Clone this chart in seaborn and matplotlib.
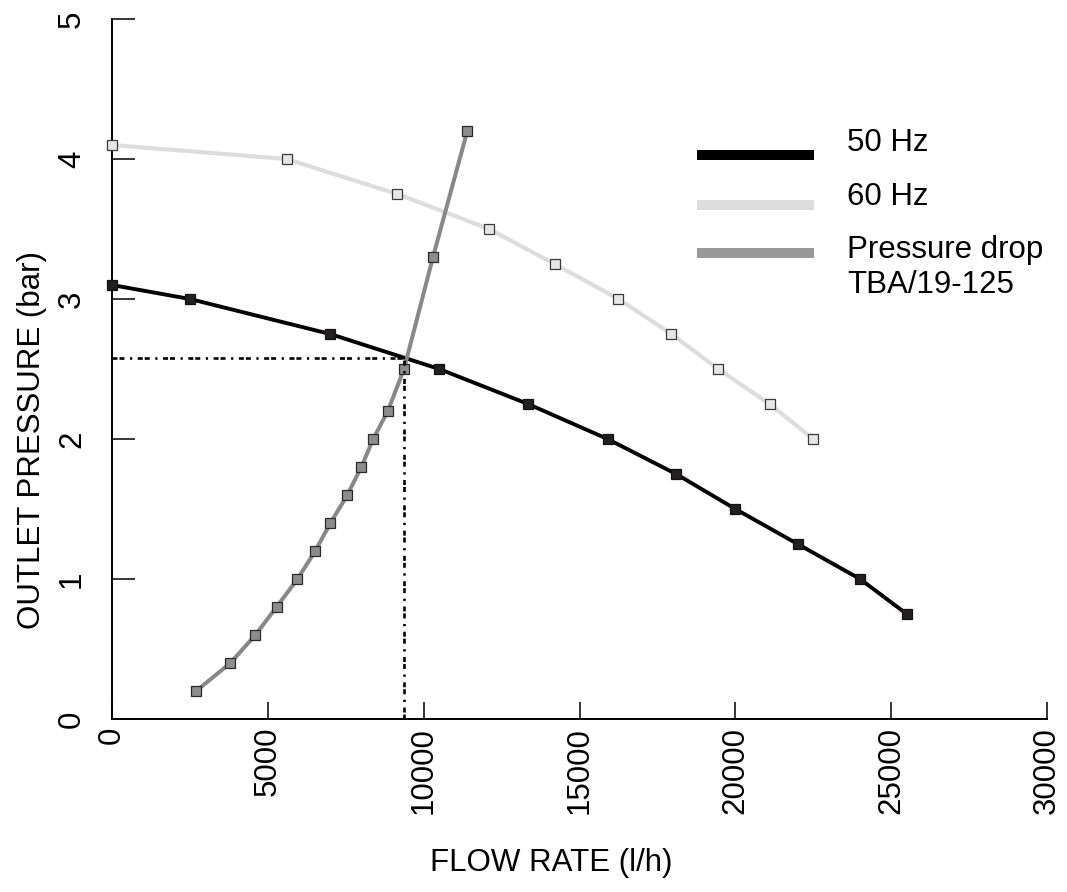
import matplotlib
matplotlib.use("Agg")
import matplotlib.pyplot as plt
import seaborn as sns
import pandas as pd
from matplotlib.lines import Line2D
from matplotlib.legend_handler import HandlerLine2D

# ---- data ----
flow_50 = [0, 2500, 7000, 10500, 13350, 15900, 18100, 20000, 22000, 24000, 25500]
pres_50 = [3.1, 3.0, 2.75, 2.5, 2.25, 2.0, 1.75, 1.5, 1.25, 1.0, 0.75]

flow_60 = [0, 5600, 9150, 12100, 14200, 16250, 17950, 19450, 21100, 22500]
pres_60 = [4.1, 4.0, 3.75, 3.5, 3.25, 3.0, 2.75, 2.5, 2.25, 2.0]

flow_drop = [2700, 3800, 4600, 5280, 5950, 6520, 7010, 7550, 8000, 8380, 8850, 9370, 10300, 11400]
pres_drop = [0.2, 0.4, 0.6, 0.8, 1.0, 1.2, 1.4, 1.6, 1.8, 2.0, 2.2, 2.5, 3.3, 4.2]

op_flow = 9370
op_pres = 2.58

x_ticks = [0, 5000, 10000, 15000, 20000, 25000, 30000]
y_ticks = [0, 1, 2, 3, 4, 5]
series_labels = ["50 Hz", "60 Hz", "Pressure drop\nTBA/19-125"]
x_label = "FLOW RATE (l/h)"
y_label = "OUTLET PRESSURE (bar)"

# ---- style ----
sns.set_theme(style="ticks")
plt.rcParams["font.family"] = ["Liberation Sans", "DejaVu Sans"]
plt.rcParams["lines.scale_dashes"] = False
plt.rcParams["text.color"] = "#000000"
plt.rcParams["axes.labelcolor"] = "#000000"

FS = 22.5

fig = plt.figure(figsize=(10.67, 8.92), dpi=100)
ax = fig.add_axes([112 / 1067, 1 - 719 / 892, (1047 - 112) / 1067, 700 / 892])

df50 = pd.DataFrame({"flow": flow_50, "pres": pres_50})
df60 = pd.DataFrame({"flow": flow_60, "pres": pres_60})
dfd = pd.DataFrame({"flow": flow_drop, "pres": pres_drop})

sns.lineplot(data=df60, x="flow", y="pres", ax=ax, sort=False, estimator=None,
             color="#dddddd", linewidth=3.0, marker="s", markersize=7.5,
             markerfacecolor="#e6e6e6", markeredgecolor="#3a3a3a", markeredgewidth=0.9,
             clip_on=False, zorder=3)
sns.lineplot(data=df50, x="flow", y="pres", ax=ax, sort=False, estimator=None,
             color="#000000", linewidth=2.8, marker="s", markersize=7.5,
             markerfacecolor="#231f20", markeredgecolor="#111111", markeredgewidth=0.9,
             clip_on=False, zorder=4)
sns.lineplot(data=dfd, x="flow", y="pres", ax=ax, sort=False, estimator=None,
             color="#888888", linewidth=2.9, marker="s", markersize=7.5,
             markerfacecolor="#8c8c8c", markeredgecolor="#2a2a2a", markeredgewidth=0.9,
             clip_on=False, zorder=5)

dash = (0, (3.6, 1.4, 3.6, 4.0, 1.6, 4.0))
ax.plot([0, op_flow], [op_pres, op_pres], color="#000000", linewidth=1.9,
        linestyle=dash, zorder=6, clip_on=False)
ax.plot([op_flow, op_flow], [0, op_pres], color="#000000", linewidth=1.9,
        linestyle=dash, zorder=6, clip_on=False)

ax.set_xlim(0, 30000)
ax.set_ylim(0, 5)
ax.set_xticks(x_ticks)
ax.set_yticks(y_ticks)
ax.set_xticklabels([str(v) for v in x_ticks], rotation=90)
ax.set_yticklabels([str(v) for v in y_ticks], rotation=90, va="center")

for s in ["top", "right"]:
    ax.spines[s].set_visible(False)
for s in ["left", "bottom"]:
    ax.spines[s].set_linewidth(1.4)
    ax.spines[s].set_color("#000000")

ax.tick_params(axis="y", direction="in", length=16.5, width=1.1, pad=18,
               labelsize=FS, colors="#000000")
ax.tick_params(axis="x", direction="in", length=12, width=1.1, pad=5.5,
               labelsize=FS, colors="#000000")

ax.set_xlabel(x_label, fontsize=FS, color="#000000")
ax.set_ylabel(y_label, fontsize=FS, color="#000000")
ax.xaxis.set_label_coords(0.47, -0.184)
ax.yaxis.set_label_coords(-0.07, 0.399)


class ShiftedLine(HandlerLine2D):
    def __init__(self, shift_pt, **kw):
        super().__init__(**kw)
        self.shift_pt = shift_pt

    def create_artists(self, legend, orig_handle, xdescent, ydescent,
                       width, height, fontsize, trans):
        arts = super().create_artists(legend, orig_handle, xdescent, ydescent,
                                      width, height, fontsize, trans)
        for a in arts:
            y = a.get_ydata()
            a.set_ydata([v - self.shift_pt for v in y])
        return arts


handles = [
    Line2D([], [], color="#000000", linewidth=7.2, solid_capstyle="butt"),
    Line2D([], [], color="#dcdcdc", linewidth=7.2, solid_capstyle="butt"),
    Line2D([], [], color="#999999", linewidth=7.2, solid_capstyle="butt"),
]
hmap = {
    handles[0]: ShiftedLine(15 * 0.72),
    handles[1]: ShiftedLine(11 * 0.72),
    handles[2]: ShiftedLine(-15 * 0.72),
}
leg = ax.legend(handles, series_labels, loc="upper left",
                bbox_to_anchor=(697 / 1067, 1 - 128 / 892),
                bbox_transform=fig.transFigure, frameon=False,
                fontsize=FS, handlelength=3.75, handletextpad=1.05,
                labelspacing=0.76, borderpad=0, borderaxespad=0,
                handler_map=hmap)

fig.savefig("out.png", dpi=100)
